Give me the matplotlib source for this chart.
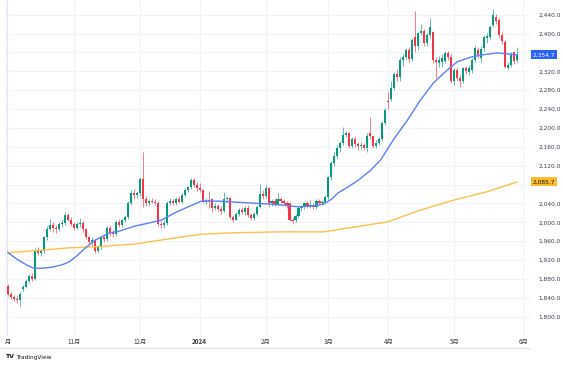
import numpy as np
import matplotlib
matplotlib.use('Agg')
import matplotlib.pyplot as plt
from matplotlib.transforms import Bbox, TransformedBbox, blended_transform_factory
from matplotlib.ticker import FuncFormatter

# daily bars (open, high, low, close), one list per month
oct_bars = [
    (1866, 1870, 1844, 1848), (1848, 1852, 1838, 1842), (1842, 1846, 1833, 1838),
    (1838, 1844, 1830, 1836), (1836, 1852, 1822, 1848), (1858, 1868, 1855, 1864),
    (1864, 1880, 1862, 1876), (1876, 1890, 1872, 1886), (1886, 1892, 1876, 1880),
    (1880, 1946, 1878, 1942), (1942, 1948, 1930, 1936), (1936, 1944, 1928, 1940),
    (1940, 1972, 1936, 1968), (1968, 1992, 1962, 1986), (1986, 2008, 1982, 1994),
    (1994, 2000, 1980, 1988), (1988, 1994, 1978, 1986), (1986, 2000, 1982, 1996),
    (1996, 2004, 1990, 1998), (1998, 2022, 1994, 2016), (2016, 2020, 2002, 2006),
    (2006, 2012, 1992, 1996),
]
nov_bars = [
    (1996, 2000, 1984, 1988), (1988, 2000, 1985, 1996), (1996, 2010, 1990, 1999),
    (1999, 2002, 1980, 1985), (1985, 1988, 1965, 1968), (1968, 1972, 1952, 1958),
    (1958, 1968, 1950, 1962), (1962, 1964, 1936, 1940), (1940, 1952, 1936, 1948),
    (1948, 1972, 1944, 1968), (1968, 1972, 1958, 1964), (1964, 1992, 1960, 1988),
    (1988, 1994, 1972, 1978), (1978, 1984, 1968, 1976), (1976, 2004, 1972, 2000),
    (2000, 2008, 1990, 1994), (1994, 2008, 1990, 2004), (2004, 2016, 2000, 2012),
    (2012, 2046, 2008, 2040), (2040, 2068, 2036, 2062), (2062, 2070, 2050, 2058),
    (2058, 2066, 2052, 2062),
]
dec_bars = [
    (2062, 2096, 2056, 2092), (2092, 2150, 2032, 2050), (2050, 2055, 2035, 2040),
    (2040, 2050, 2036, 2046), (2046, 2052, 2040, 2044), (2044, 2050, 2036, 2042),
    (2042, 2045, 1992, 1996), (1996, 2002, 1988, 1994), (1994, 2004, 1988, 1998),
    (1998, 2045, 1995, 2040), (2040, 2052, 2036, 2046), (2046, 2050, 2036, 2040),
    (2040, 2054, 2036, 2049), (2049, 2056, 2040, 2043), (2043, 2062, 2040, 2058),
    (2058, 2072, 2054, 2068), (2068, 2078, 2064, 2074), (2074, 2095, 2070, 2090),
    (2090, 2094, 2075, 2080), (2080, 2086, 2066, 2072),
]
jan_bars = [
    (2072, 2084, 2064, 2068), (2068, 2070, 2040, 2044), (2044, 2052, 2038, 2047),
    (2047, 2066, 2030, 2045), (2050, 2052, 2022, 2030), (2030, 2040, 2026, 2034),
    (2034, 2038, 2024, 2028), (2028, 2034, 2018, 2024), (2024, 2064, 2022, 2050),
    (2050, 2056, 2044, 2052), (2052, 2054, 2008, 2012), (2012, 2016, 2001, 2006),
    (2006, 2022, 2004, 2018), (2018, 2030, 2014, 2026), (2026, 2032, 2018, 2022),
    (2022, 2034, 2016, 2030), (2030, 2036, 2012, 2016), (2016, 2020, 2006, 2010),
    (2010, 2022, 2006, 2018), (2018, 2036, 2014, 2032), (2032, 2082, 2030, 2060),
    (2060, 2068, 2050, 2056),
]
feb_bars = [
    (2056, 2079, 2052, 2072), (2072, 2074, 2032, 2040), (2040, 2050, 2034, 2046),
    (2046, 2052, 2034, 2038), (2038, 2062, 2036, 2050), (2050, 2054, 2040, 2046),
    (2046, 2050, 2036, 2042), (2042, 2046, 2030, 2036), (2040, 2042, 2002, 2006),
    (2006, 2012, 1998, 2002), (2004, 2018, 2000, 2014), (2014, 2034, 2010, 2030),
    (2030, 2036, 2024, 2032), (2032, 2044, 2028, 2040), (2040, 2046, 2030, 2034),
    (2034, 2048, 2030, 2036), (2036, 2040, 2028, 2032), (2032, 2050, 2028, 2046),
    (2046, 2050, 2036, 2040), (2040, 2048, 2036, 2044), (2044, 2058, 2040, 2054),
]
mar_bars = [
    (2054, 2098, 2050, 2096), (2096, 2130, 2090, 2126), (2126, 2150, 2120, 2141),
    (2141, 2164, 2136, 2158), (2158, 2172, 2150, 2168), (2168, 2203, 2164, 2186),
    (2186, 2194, 2180, 2190), (2190, 2192, 2158, 2162), (2162, 2180, 2158, 2176),
    (2176, 2182, 2160, 2166), (2166, 2170, 2154, 2162), (2162, 2170, 2156, 2164),
    (2164, 2168, 2154, 2158), (2158, 2190, 2150, 2182), (2190, 2224, 2176, 2182),
    (2182, 2184, 2158, 2162), (2162, 2174, 2158, 2168), (2168, 2180, 2164, 2176),
    (2176, 2214, 2172, 2210), (2210, 2242, 2206, 2238),
]
apr_bars = [
    (2258, 2276, 2240, 2254), (2262, 2300, 2258, 2284), (2284, 2318, 2280, 2314),
    (2314, 2324, 2300, 2308), (2308, 2350, 2300, 2344), (2344, 2356, 2332, 2350),
    (2350, 2370, 2346, 2366), (2366, 2372, 2340, 2346), (2346, 2390, 2342, 2386),
    (2392, 2448, 2360, 2374), (2374, 2404, 2366, 2401), (2401, 2420, 2396, 2406),
    (2406, 2410, 2374, 2380), (2380, 2402, 2374, 2398), (2398, 2433, 2390, 2414),
    (2404, 2406, 2338, 2344), (2344, 2350, 2306, 2340), (2338, 2352, 2330, 2344),
    (2340, 2356, 2330, 2348), (2342, 2362, 2338, 2358), (2358, 2364, 2344, 2350),
    (2350, 2356, 2296, 2300),
]
may_bars = [
    (2300, 2326, 2290, 2322), (2322, 2330, 2300, 2306), (2306, 2312, 2287, 2300),
    (2300, 2330, 2296, 2326), (2326, 2332, 2314, 2320), (2318, 2334, 2312, 2328),
    (2322, 2348, 2316, 2344), (2344, 2376, 2340, 2370), (2366, 2372, 2348, 2354),
    (2348, 2374, 2340, 2368), (2370, 2396, 2364, 2392), (2390, 2402, 2380, 2394),
    (2392, 2418, 2386, 2414), (2418, 2452, 2414, 2440), (2436, 2442, 2420, 2426),
    (2428, 2432, 2390, 2396), (2396, 2404, 2378, 2384), (2382, 2386, 2326, 2330),
    (2328, 2340, 2324, 2334), (2334, 2360, 2330, 2355), (2360, 2364, 2336, 2342),
    (2345, 2372, 2340, 2355),
]

# moving averages (bar index, value)
ma_fast_idx = [0, 3, 6.4, 8.6, 11.4, 14.7, 18, 20.3, 23, 25.7, 29, 33.6, 37, 42.3, 48, 51.3,
               55.6, 60.2, 64.6, 70.2, 75.5, 81.2, 86.8, 91.2, 96.8, 102.1, 105.5, 108,
               110.1, 113.5, 117.1, 121, 124.4, 128.7, 133.4, 137.7, 142, 146.7, 150,
               154.4, 158.7, 163.3, 166.7, 170]
ma_fast_val = [1936, 1922, 1909, 1903, 1903, 1905, 1910, 1916, 1929, 1945, 1962, 1977, 1981,
               1992, 2000, 2005, 2020, 2033, 2045, 2045, 2043, 2041, 2039, 2037, 2033, 2035,
               2039, 2049, 2062, 2075, 2090, 2110, 2132, 2175, 2217, 2259, 2295, 2323, 2340,
               2350, 2355, 2359, 2357, 2354.7]
ma_slow_idx = [0, 9, 20.3, 31.3, 42.3, 53.6, 64.6, 75.5, 91.2, 105.5, 113.5, 126.8, 137.7,
               148.7, 160, 170]
ma_slow_val = [1936, 1940, 1946, 1949, 1954, 1965, 1975, 1978, 1980, 1980, 1988, 2001, 2026,
               2047, 2065, 2085.7]

month_pos = [-1, 22, 44, 64, 86, 107, 127, 149, 172]
month_labels = ['10月', '11月', '12月', '2024', '2月', '3月', '4月', '5月', '6月']
price_ticks = np.arange(1800, 2441, 40)

bars = np.array(oct_bars + nov_bars + dec_bars + jan_bars + feb_bars + mar_bars + apr_bars + may_bars, dtype=float)
opens, highs, lows, closes = bars.T
idx = np.arange(len(bars))

W, H = 563, 367
fig = plt.figure(figsize=(W / 100, H / 100), dpi=100)
fig.patch.set_facecolor('white')
ax = fig.add_axes([5 / W, 31 / H, 525 / W, 336 / H])
ax.set_xlim(-0.28, 174.3)
ax.set_ylim(1759.3, 2471.1)

# grid
ax.set_yticks(price_ticks)
ax.set_xticks(month_pos)
ax.grid(True, color='#f0f3fa', lw=0.8, zorder=0)
ax.tick_params(axis='x', length=0, labelbottom=False)
ax.tick_params(axis='y', length=0, left=False, labelleft=False, labelright=True,
               pad=6, labelsize=4.2, labelcolor='#3a3e4a')
badge_vals = [ma_fast_val[-1], ma_slow_val[-1]]


def price_fmt(v, p):
    # the value badges cover the labels next to them
    if any(abs(v - b) < 10 for b in badge_vals):
        return ''
    return f'{v:,.1f}'


ax.yaxis.set_major_formatter(FuncFormatter(price_fmt))
for s in ax.spines.values():
    s.set_visible(False)
ax.axvline(-0.28, color='#e0e3eb', lw=0.8, zorder=1)

# candles
up = closes >= opens
colors = np.where(up, '#089981', '#f23645')
ax.vlines(idx, lows, highs, colors=colors, lw=0.6, alpha=0.75, zorder=2)
ax.bar(idx, np.maximum(np.abs(closes - opens), 1.0), bottom=np.minimum(opens, closes),
       width=0.7, color=colors, lw=0, zorder=2.5)

# moving averages
ax.plot(ma_slow_idx, ma_slow_val, color='#fcc24a', lw=1.0, zorder=3)
ax.plot(ma_fast_idx, ma_fast_val, color='#5b7ffc', lw=1.0, zorder=3)

# last value badges
bt = blended_transform_factory(ax.transAxes, ax.transData)
ax.text(1.005, ma_fast_val[-1], f'{ma_fast_val[-1]:,.1f}', transform=bt, ha='left', va='center',
        fontsize=4.2, color='white', zorder=5, clip_on=False,
        bbox=dict(boxstyle='square,pad=0.35', fc='#2962ff', ec='none'))
ax.text(1.005, ma_slow_val[-1], f'{ma_slow_val[-1]:,.1f}', transform=bt, ha='left', va='center',
        fontsize=4.2, color='#131722', zorder=5, clip_on=False,
        bbox=dict(boxstyle='square,pad=0.35', fc='#fbbd2f', ec='none'))

# time axis labels
clip = TransformedBbox(Bbox([[5 / W, 0], [530 / W, 1]]), fig.transFigure)
xt = blended_transform_factory(ax.transData, ax.transAxes)
for pos, lab in zip(month_pos, month_labels):
    t = ax.text(pos, -6 / 336, lab, transform=xt, ha='center', va='center', fontsize=4.5,
                color='#3a3e4a', family=['Noto Sans CJK JP', 'DejaVu Sans'],
                fontweight='bold' if lab == '2024' else 'normal')
    t.set_clip_box(clip)
    t.set_clip_on(True)

# footer
fig.add_artist(plt.Line2D([0, 530 / W], [1 - 348 / H, 1 - 348 / H], color='#e0e3eb', lw=0.8))
fig.text(5 / W, 1 - 357 / H, 'TV', fontsize=4.5, fontweight='bold', color='#131722', va='center')
fig.text(16 / W, 1 - 357 / H, 'TradingView', fontsize=4.2, color='#131722', va='center')

fig.savefig('out.png', dpi=100)
